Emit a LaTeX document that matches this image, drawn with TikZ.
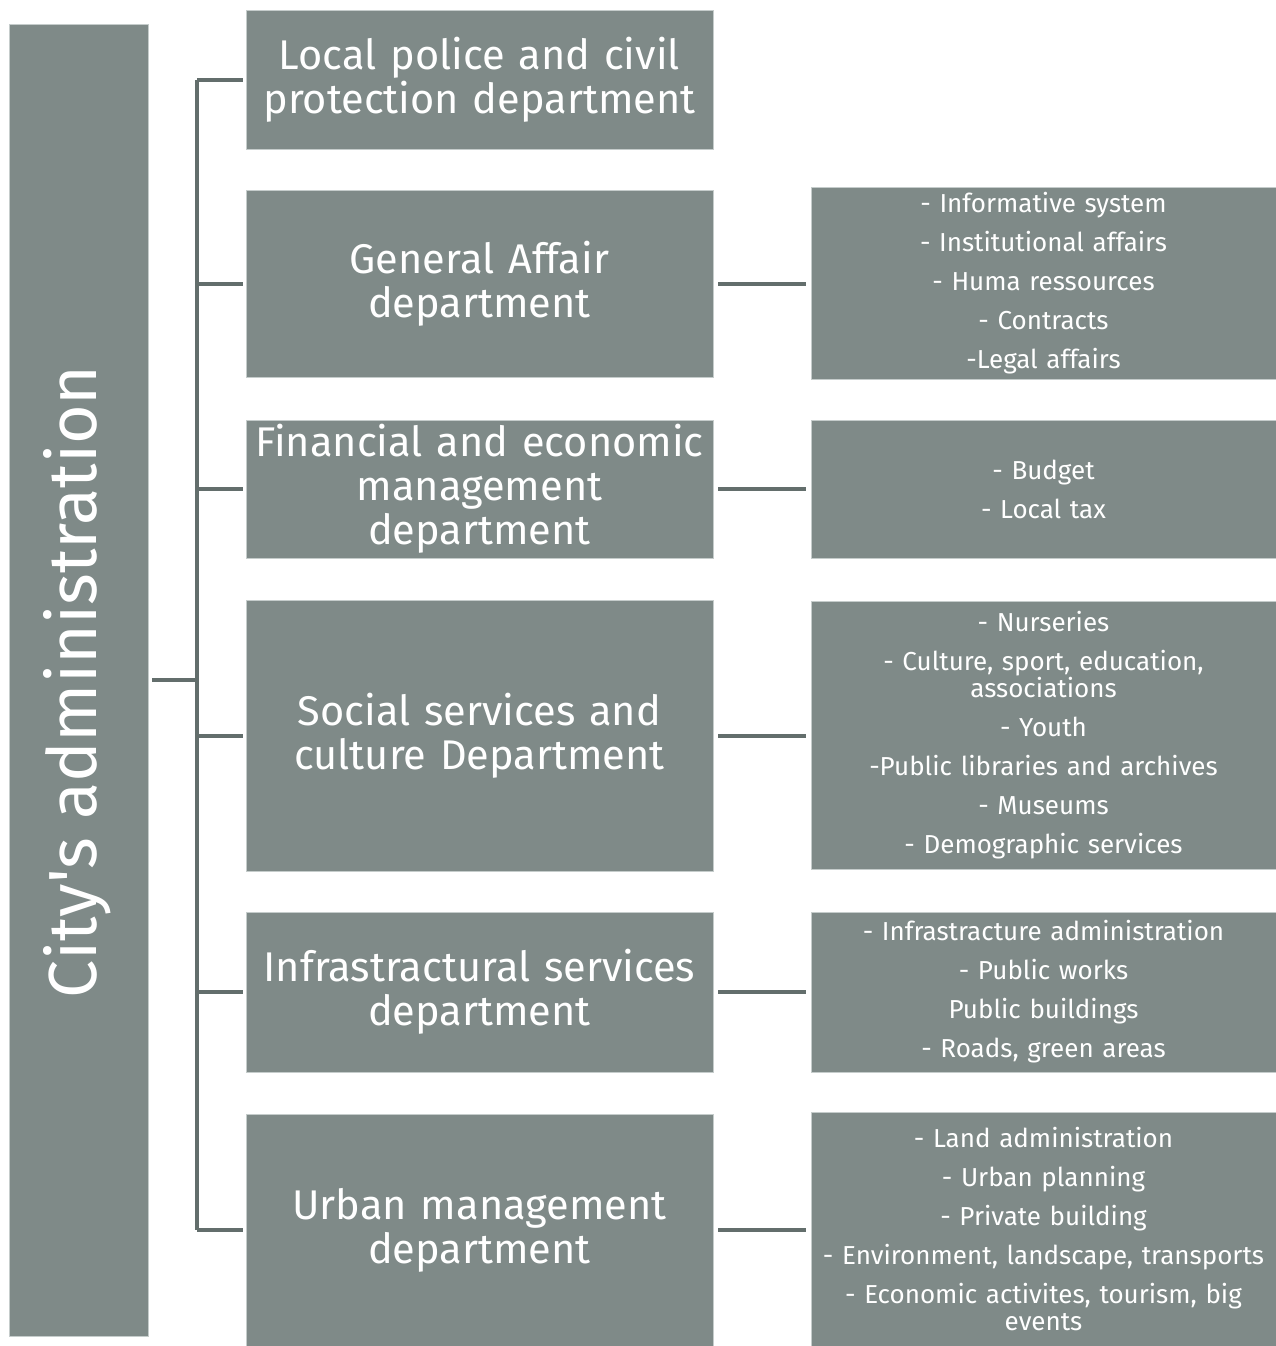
\documentclass[tikz,border=0pt]{standalone}
\usepackage{fontspec}
\setmainfont{Fira Sans}
\newfontfamily\cityfont{Fira Sans}[Ligatures=TeXOff]
\definecolor{boxfill}{HTML}{7F8A88}
\definecolor{boxedge}{HTML}{C5CCCB}
\definecolor{linec}{HTML}{636E6C}
\begin{document}
\begin{tikzpicture}[x=1pt,y=-1pt,
  box/.style={rectangle,fill=boxfill,draw=boxedge,line width=0.6pt,inner sep=0pt,text=white,align=center},
  dept/.style={box,minimum width=467pt,font=\fontsize{41.5}{44}\selectfont,text width=466pt},
  sub/.style={box,minimum width=465pt,font=\fontsize{26}{27}\selectfont,text width=464pt},
  conn/.style={draw=linec,line width=4pt}]
\useasboundingbox (0,0) rectangle (1276,1346);
\node[box,minimum width=139pt,minimum height=1312pt] (city) at (78.5,680) {};
\node[text=white,rotate=90,font=\cityfont\fontsize{68}{76}\selectfont] (citytxt) at (77,682) {City's administration};
% departments
\node[dept,minimum height=139pt] (b1) at (479.5,79.5) {Local police and civil\\protection department};
\node[dept,minimum height=187pt] (b2) at (479.5,283.5) {General Affair\\department};
\node[dept,minimum height=138pt] (b3) at (479.5,489) {Financial and economic\\management\\department};
\node[dept,minimum height=271pt] (b4) at (479.5,735.5) {Social services and\\culture Department};
\node[dept,minimum height=160pt] (b5) at (479.5,992) {Infrastractural services\\department};
\node[dept,minimum height=232pt] (b6) at (479.5,1230) {Urban management\\department};
% sub boxes
\node[sub,minimum height=192pt] (r2) at (1043.5,283) {- Informative system\\[12pt]- Institutional affairs\\[12pt]- Huma ressources\\[12pt]- Contracts\\[12pt]-Legal affairs};
\node[sub,minimum height=138pt] (r3) at (1043.5,489) {- Budget\\[12pt]- Local tax};
\node[sub,minimum height=268pt] (r4) at (1043.5,735) {- Nurseries\\[12pt]- Culture, sport, education,\\associations\\[12pt]- Youth\\[12pt]-Public libraries and archives\\[12pt]- Museums\\[12pt]- Demographic services};
\node[sub,minimum height=160pt] (r5) at (1043.5,992) {- Infrastracture administration\\[12pt]- Public works\\[12pt]Public buildings\\[12pt]- Roads, green areas};
\node[sub,minimum height=234pt] (r6) at (1043.5,1229) {- Land administration\\[12pt]- Urban planning\\[12pt]- Private building\\[12pt]- Environment, landscape, transports\\[12pt]- Economic activites, tourism, big\\events};
% trunk
\coordinate (trunk) at (197,680);
\path[conn] (b1.west -| trunk) -- (b6.west -| trunk);
\path[conn] ([xshift=4pt]city.east) -- (trunk);
\foreach \b in {b1,b2,b3,b4,b5,b6}{
  \path[conn] (\b.west -| trunk) -- ([xshift=-3pt]\b.west);
}
\foreach \b/\r in {b2/r2,b3/r3,b4/r4,b5/r5,b6/r6}{
  \path[conn] ([xshift=5pt]\b.east) -- ([xshift=-5pt]\r.west |- \b.east);
}
\end{tikzpicture}
\end{document}
